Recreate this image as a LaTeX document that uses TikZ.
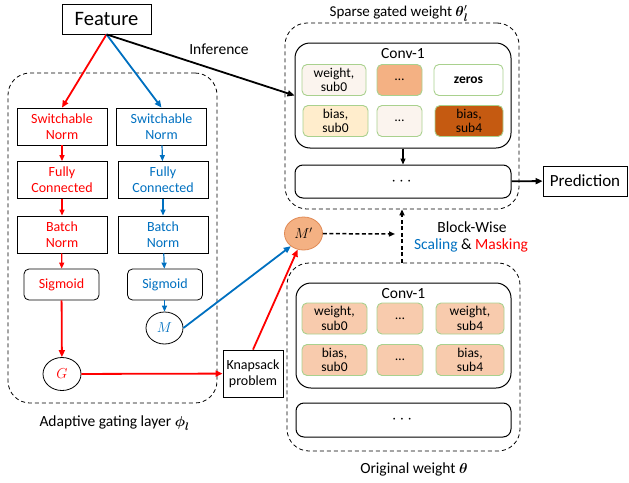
\documentclass[tikz,border=0pt]{standalone}
\usepackage{amsmath, amssymb}
\usepackage{fontspec}
\setmainfont{Carlito}
\usetikzlibrary{arrows.meta, shapes.geometric}

\definecolor{gred}{HTML}{FF0000}
\definecolor{gblue}{HTML}{0070C0}
\definecolor{cellline}{HTML}{A9D18E}
\definecolor{peach}{HTML}{F8CBAD}
\definecolor{pale}{HTML}{FBF4EE}
\definecolor{mid}{HTML}{F4B183}
\definecolor{cream}{HTML}{FFEDCC}
\definecolor{rust}{HTML}{C55A11}
\definecolor{mring}{HTML}{E08A55}

\tikzset{
  box/.style={draw, line width=0.8pt, inner sep=0pt, align=center,
    font=\fontsize{14}{16}\selectfont},
  layer/.style={box, minimum width=90pt, minimum height=37pt},
  sig/.style={box, rounded corners=5pt, minimum width=75pt, minimum height=31pt},
  var/.style={box, ellipse, minimum width=38pt, minimum height=33pt},
  group/.style={draw, line width=0.8pt, dash pattern=on 4pt off 3pt, rounded corners=22pt, inner sep=0pt},
  conv/.style={draw, line width=1pt, rounded corners=15pt, minimum width=216pt, minimum height=105pt, inner sep=0pt},
  rest/.style={draw, line width=1pt, rounded corners=8pt, minimum width=216pt, minimum height=34pt, inner sep=0pt,
    font=\fontsize{16}{16}\selectfont},
  cell/.style={draw=cellline, line width=0.9pt, rounded corners=5pt, minimum height=31pt, inner sep=0pt,
    align=center, font=\fontsize{13.5}{14.5}\selectfont},
  lbl/.style={inner sep=0pt, align=center, font=\fontsize{15.5}{18}\selectfont},
  thick arrow/.style={line width=1.8pt, -{Triangle[length=7pt, width=6pt]}},
  thin arrow/.style={line width=1.2pt, -{Triangle[length=6pt, width=5pt]}},
  dash arrow/.style={line width=1.5pt, dash pattern=on 4pt off 2.5pt, -{Triangle[length=6pt, width=5pt]}}
}

\begin{document}
\begin{tikzpicture}[x=1pt, y=-1pt]
\useasboundingbox (0,0) rectangle (629,482);

\path (112.5,238) node[group, minimum width=209pt, minimum height=330pt] (agl) {}
      (402,116) node[group, minimum width=234pt, minimum height=186pt] (sparse) {}
      (403.5,357) node[group, minimum width=233pt, minimum height=188pt] (orig) {}
      (106.5,19) node[box, minimum width=89pt, minimum height=30pt, font=\fontsize{20.5}{22}\selectfont] (feat) {Feature}
      (62,126.5) node[layer, text=gred] (rsn) {Switchable\\Norm}
      (62,180) node[layer, text=gred] (rfc) {Fully\\Connected}
      (62,234.5) node[layer, text=gred] (rbn) {Batch\\Norm}
      (61.5,284.5) node[sig, text=gred] (rsig) {Sigmoid}
      (62,374) node[var, text=gred] (g) {$G$}
      (161.5,126.5) node[layer, text=gblue] (bsn) {Switchable\\Norm}
      (163,180) node[layer, text=gblue] (bfc) {Fully\\Connected}
      (163,234.5) node[layer, text=gblue] (bbn) {Batch\\Norm}
      (165,284.5) node[sig, text=gblue] (bsig) {Sigmoid}
      (164.5,328) node[var, minimum width=37pt, minimum height=32pt, text=gblue] (m) {$M$}
      (253,373.5) node[box, minimum width=60pt, minimum height=47pt] (knap) {Knapsack\\problem}
      (303.5,233.5) node[var, draw=mring, fill=mid] (mp) {$M'$}
      (585,181) node[box, minimum width=84pt, minimum height=30pt, font=\fontsize{17}{18}\selectfont] (pred) {Prediction}
      ;

\path (403,95.5) node[conv] (tconv) {}
      (403,54) node[lbl, font=\fontsize{15.5}{16}\selectfont] (tname) {Conv-1}
      (334,80) node[cell, minimum width=64pt, fill=pale] (tw0) {weight,\\sub0}
      (399.5,80) node[cell, minimum width=45pt, fill=mid] (twd) {\dots}
      (468.5,80) node[cell, minimum width=69pt, fill=white] (tw4) {\textbf{zeros}}
      (335.5,121) node[cell, minimum width=65pt, fill=cream] (tb0) {bias,\\sub0}
      (399.5,121) node[cell, minimum width=45pt, fill=pale] (tbd) {\dots}
      (469,121) node[cell, minimum width=68pt, fill=rust] (tb4) {bias,\\sub4}
      (403,181.5) node[rest, minimum height=33pt] (tdots) {$\cdots$}
      ;

\path (403.5,335.5) node[conv, minimum width=215pt] (oconv) {}
      (403.5,294) node[lbl, font=\fontsize{15.5}{16}\selectfont] (oname) {Conv-1}
      (334.5,318.5) node[cell, minimum width=65pt, fill=peach] (ow0) {weight,\\sub0}
      (400,318.5) node[cell, minimum width=46pt, fill=peach] (owd) {\dots}
      (470,318.5) node[cell, minimum width=68pt, fill=peach] (ow4) {weight,\\sub4}
      (334.5,360) node[cell, minimum width=65pt, fill=peach] (ob0) {bias,\\sub0}
      (400,360) node[cell, minimum width=46pt, fill=peach] (obd) {\dots}
      (470,360) node[cell, minimum width=68pt, fill=peach] (ob4) {bias,\\sub4}
      (403.5,420) node[rest, minimum width=215pt] (odots) {$\cdots$}
      ;

\path (399,13) node[lbl, font=\fontsize{15}{17}\selectfont] (sparselbl) {Sparse gated weight $\boldsymbol{\theta}'_{\boldsymbol{l}}$}
      (414,469) node[lbl] (origlbl) {Original weight $\boldsymbol{\theta}$}
      (114.5,423) node[lbl] (agllbl) {Adaptive gating layer $\boldsymbol{\phi}_{\boldsymbol{l}}$}
      (219,49) node[lbl] (inf) {Inference}
      (472,227) node[lbl] (bw) {Block-Wise}
      (471,245) node[lbl] (sm) {\textcolor{gblue}{Scaling} \& \textcolor{gred}{Masking}}
      ;
\coordinate (mpend) at (395,234);

\draw [thick arrow, gred] (node cs:name=feat, anchor=south) -- (node cs:name=rsn, anchor=north);
\draw [thick arrow, gblue] (node cs:name=feat, anchor=south) -- (node cs:name=bsn, anchor=north);
\draw [thick arrow] (node cs:name=feat, anchor=south) -- (node cs:name=tconv, anchor=west);
\draw [thin arrow, gred] (rsn) -- (rfc);
\draw [thin arrow, gred] (rfc) -- (rbn);
\draw [thin arrow, gred] (rbn) -- (rsig);
\draw [thick arrow, gred] (rsig) -- (g);
\draw [thin arrow, gblue] (bsn) -- (bfc);
\draw [thin arrow, gblue] (bfc) -- (bbn);
\draw [thin arrow, gblue] (bbn) -- (bsig);
\draw [thin arrow, gblue] (bsig.south -| m.north) -- (m);
\draw [thick arrow, gred] (g) -- (knap);
\draw [thick arrow, gred] (knap.north) -- (mp.250);
\draw [thick arrow, gblue] (m.east) -- (mp.225);
\draw [dash arrow] (mp) -- (mpend);
\draw [dash arrow] (orig.north -| sparse.south) -- (sparse.south);
\draw [thin arrow] (tconv) -- (tdots);
\draw [thick arrow] (tdots) -- (pred);
\end{tikzpicture}
\end{document}
